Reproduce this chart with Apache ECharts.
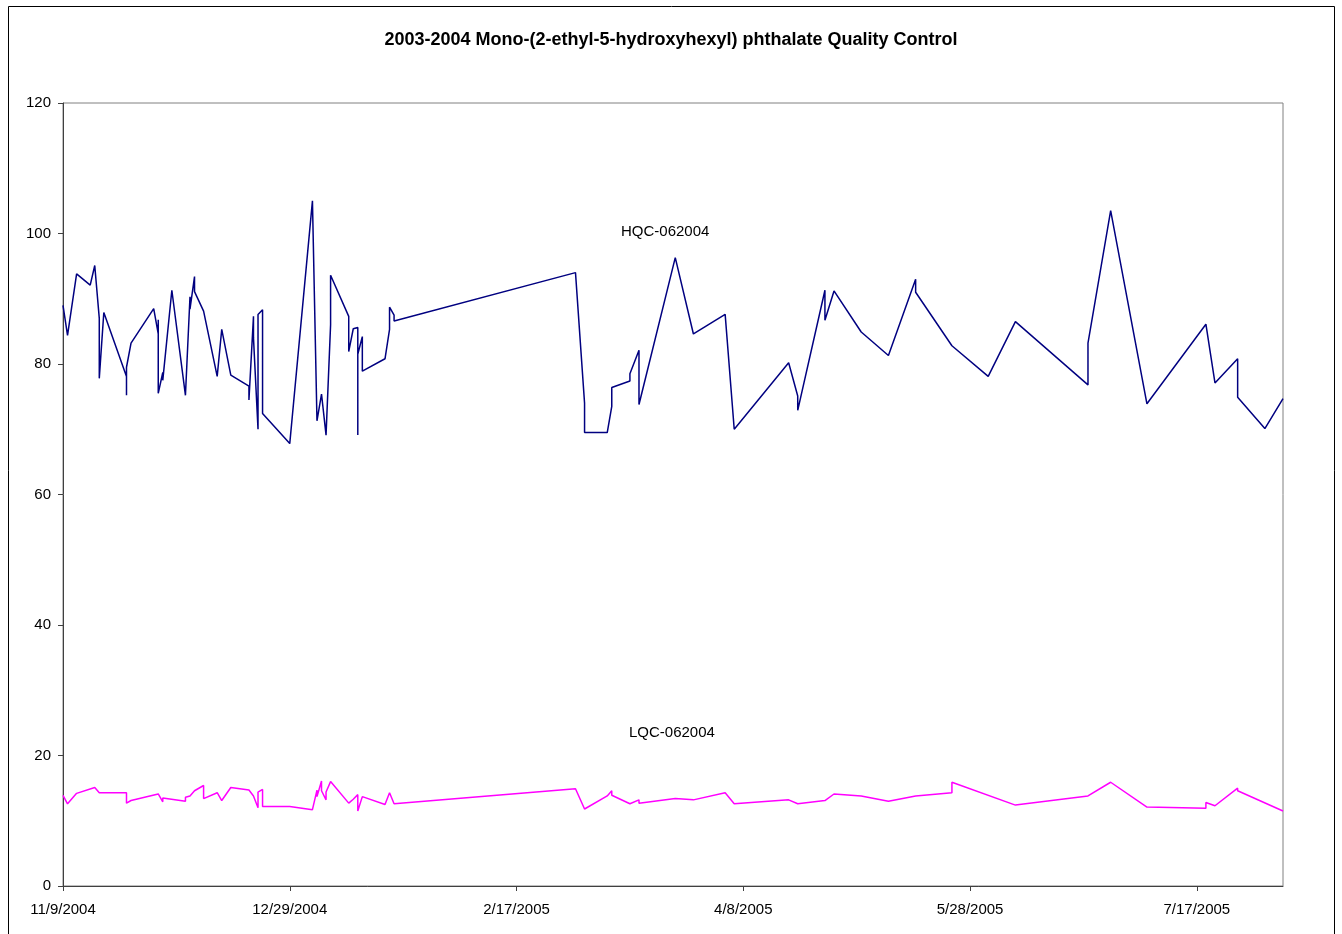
<!DOCTYPE html>
<html>
<head>
<meta charset="utf-8">
<script src="https://cdn.jsdelivr.net/npm/echarts@6/dist/echarts.min.js"></script>
<style>
html,body{margin:0;padding:0;background:#fff;}
#chart{width:1342px;height:934px;}
</style>
</head>
<body>
<div id="chart"></div>
<script>
const titleText = '2003-2004 Mono-(2-ethyl-5-hydroxyhexyl) phthalate Quality Control';
const axisStart = '2004-11-09';
const axisEnd = '2005-08-05';
const tickStepDays = 50;
const yTicks = [0, 20, 40, 60, 80, 100, 120];

const hqcName = 'HQC-062004';
const hqcDates = [
 '2004-11-09','2004-11-10','2004-11-12','2004-11-15','2004-11-16','2004-11-17','2004-11-17','2004-11-18',
 '2004-11-23','2004-11-23','2004-11-23','2004-11-24','2004-11-29','2004-11-30','2004-11-30','2004-11-30',
 '2004-12-01','2004-12-01','2004-12-03','2004-12-06','2004-12-07','2004-12-07','2004-12-08','2004-12-08',
 '2004-12-10','2004-12-13','2004-12-14','2004-12-16','2004-12-20','2004-12-20','2004-12-21','2004-12-21',
 '2004-12-22','2004-12-22','2004-12-23','2004-12-23','2004-12-29','2005-01-03','2005-01-04','2005-01-05',
 '2005-01-06','2005-01-07','2005-01-07','2005-01-11','2005-01-11','2005-01-12','2005-01-13','2005-01-13',
 '2005-01-13','2005-01-14','2005-01-14','2005-01-19','2005-01-20','2005-01-20','2005-01-21','2005-01-21',
 '2005-03-02','2005-03-04','2005-03-04','2005-03-09','2005-03-10','2005-03-10','2005-03-14','2005-03-14',
 '2005-03-16','2005-03-16','2005-03-24','2005-03-28','2005-04-04','2005-04-06','2005-04-18','2005-04-20',
 '2005-04-20','2005-04-26','2005-04-26','2005-04-28','2005-05-04','2005-05-10','2005-05-16','2005-05-16',
 '2005-05-24','2005-06-01','2005-06-07','2005-06-23','2005-06-23','2005-06-28','2005-07-06','2005-07-19',
 '2005-07-21','2005-07-26','2005-07-26','2005-08-01','2005-08-05'
];
const hqcValues = [
 89.0,84.4,93.8,92.1,95.1,87.0,77.8,87.9,
 78.1,75.2,79.5,83.2,88.5,84.6,86.8,75.5,
 78.7,77.5,91.3,75.2,90.3,88.4,93.4,91.1,
 88.1,78.1,85.3,78.3,76.6,74.5,87.3,84.0,
 70.0,87.6,88.3,72.4,67.8,105.0,71.3,75.4,
 69.1,86.0,93.6,87.3,81.9,85.4,85.6,69.1,
 81.5,84.2,78.9,80.8,85.3,88.7,87.5,86.6,
 94.0,74.0,69.5,69.5,73.5,76.4,77.4,78.5,
 82.1,73.8,96.3,84.6,87.6,70.0,80.2,75.1,
 72.9,91.3,86.7,91.2,84.9,81.3,93.0,91.0,
 82.8,78.1,86.5,76.8,83.2,103.5,73.9,86.1,
 77.1,80.8,74.9,70.1,74.7
];

const lqcName = 'LQC-062004';
const lqcDates = [
 '2004-11-09','2004-11-10','2004-11-12','2004-11-16','2004-11-17','2004-11-23','2004-11-23','2004-11-24',
 '2004-11-30','2004-12-01','2004-12-01','2004-12-06','2004-12-06','2004-12-07','2004-12-08','2004-12-10',
 '2004-12-10','2004-12-13','2004-12-14','2004-12-16','2004-12-20','2004-12-20','2004-12-21','2004-12-22',
 '2004-12-22','2004-12-23','2004-12-23','2004-12-29','2005-01-03','2005-01-04','2005-01-04','2005-01-05',
 '2005-01-05','2005-01-06','2005-01-06','2005-01-07','2005-01-11','2005-01-12','2005-01-13','2005-01-13',
 '2005-01-14','2005-01-19','2005-01-20','2005-01-21','2005-01-21','2005-03-02','2005-03-04','2005-03-09',
 '2005-03-10','2005-03-10','2005-03-14','2005-03-16','2005-03-16','2005-03-24','2005-03-28','2005-04-04',
 '2005-04-06','2005-04-18','2005-04-20','2005-04-26','2005-04-28','2005-05-04','2005-05-10','2005-05-16',
 '2005-05-24','2005-05-24','2005-06-07','2005-06-23','2005-06-28','2005-07-06','2005-07-19','2005-07-19',
 '2005-07-21','2005-07-26','2005-07-26','2005-08-05'
];
const lqcValues = [
 13.9,12.6,14.2,15.1,14.3,14.3,12.7,13.1,
 14.1,12.9,13.5,13.0,13.6,13.8,14.6,15.4,
 13.4,14.3,13.1,15.1,14.7,14.4,13.8,12.0,
 14.4,14.8,12.2,12.2,11.7,14.7,13.7,16.1,
 14.6,13.2,14.4,16.0,12.7,13.3,14.0,11.5,
 13.7,12.5,14.3,12.6,12.4,14.9,11.8,13.8,
 14.6,13.9,12.6,13.2,12.7,13.4,13.2,14.3,
 12.6,13.2,12.6,13.1,14.1,13.8,13.0,13.8,
 14.3,15.9,12.4,13.8,15.9,12.1,11.9,12.8,
 12.3,15.0,14.6,11.5
];

const DAY = 86400000;
function toUTC(s){ const p = s.split('-').map(Number); return Date.UTC(p[0], p[1]-1, p[2]); }
const t0 = toUTC(axisStart);
function dayOf(s){ return Math.round((toUTC(s) - t0) / DAY); }
function fmtDay(d){ const dt = new Date(t0 + d*DAY); return (dt.getUTCMonth()+1) + '/' + dt.getUTCDate() + '/' + dt.getUTCFullYear(); }
function pairs(ds, vs){ return ds.map((d,i)=>[dayOf(d), vs[i]]); }

const chart = echarts.init(document.getElementById('chart'), null, {renderer:'canvas'});
const font = 'Liberation Sans, Arial, sans-serif';
chart.setOption({
  backgroundColor: '#ffffff',
  animation: false,
  title: {
    text: titleText, left: 'center', top: 26,
    textStyle: {fontFamily: font, fontSize: 18, fontWeight: 'bold', color: '#000'}
  },
  grid: {left: 63, top: 103, right: 59, bottom: 48, show: true, borderColor: '#808080', borderWidth: 1, backgroundColor: '#fff'},
  xAxis: {
    type: 'value', min: 0, max: dayOf(axisEnd), interval: tickStepDays,
    axisLine: {show: true, onZero: false, lineStyle: {color: '#404040', width: 1}},
    axisTick: {show: true, length: 5, lineStyle: {color: '#404040'}},
    splitLine: {show: false},
    axisLabel: {formatter: v => fmtDay(v), showMaxLabel: false, fontFamily: font, fontSize: 15, color: '#000', margin: 16}
  },
  yAxis: {
    type: 'value', min: yTicks[0], max: yTicks[yTicks.length-1], interval: yTicks[1]-yTicks[0],
    axisLine: {show: true, lineStyle: {color: '#404040', width: 1}},
    axisTick: {show: true, length: 5, lineStyle: {color: '#404040'}},
    splitLine: {show: false},
    axisLabel: {fontFamily: font, fontSize: 15, color: '#000', margin: 12}
  },
  series: [
    {name: hqcName, type: 'line', data: pairs(hqcDates, hqcValues), showSymbol: false, symbol: 'none',
     lineStyle: {color: '#000080', width: 1.5}},
    {name: lqcName, type: 'line', data: pairs(lqcDates, lqcValues), showSymbol: false, symbol: 'none',
     lineStyle: {color: '#FF00FF', width: 1.5}}
  ],
  graphic: [
    {type: 'rect', shape: {x: 8.5, y: 6.5, width: 1326, height: 940}, style: {fill: 'none', stroke: '#000', lineWidth: 1}, z: 100},
    {type: 'text', left: 621, top: 224, style: {text: hqcName, font: '15px ' + font, fill: '#000'}},
    {type: 'text', left: 629, top: 725, style: {text: lqcName, font: '15px ' + font, fill: '#000'}}
  ]
});
</script>
</body>
</html>
